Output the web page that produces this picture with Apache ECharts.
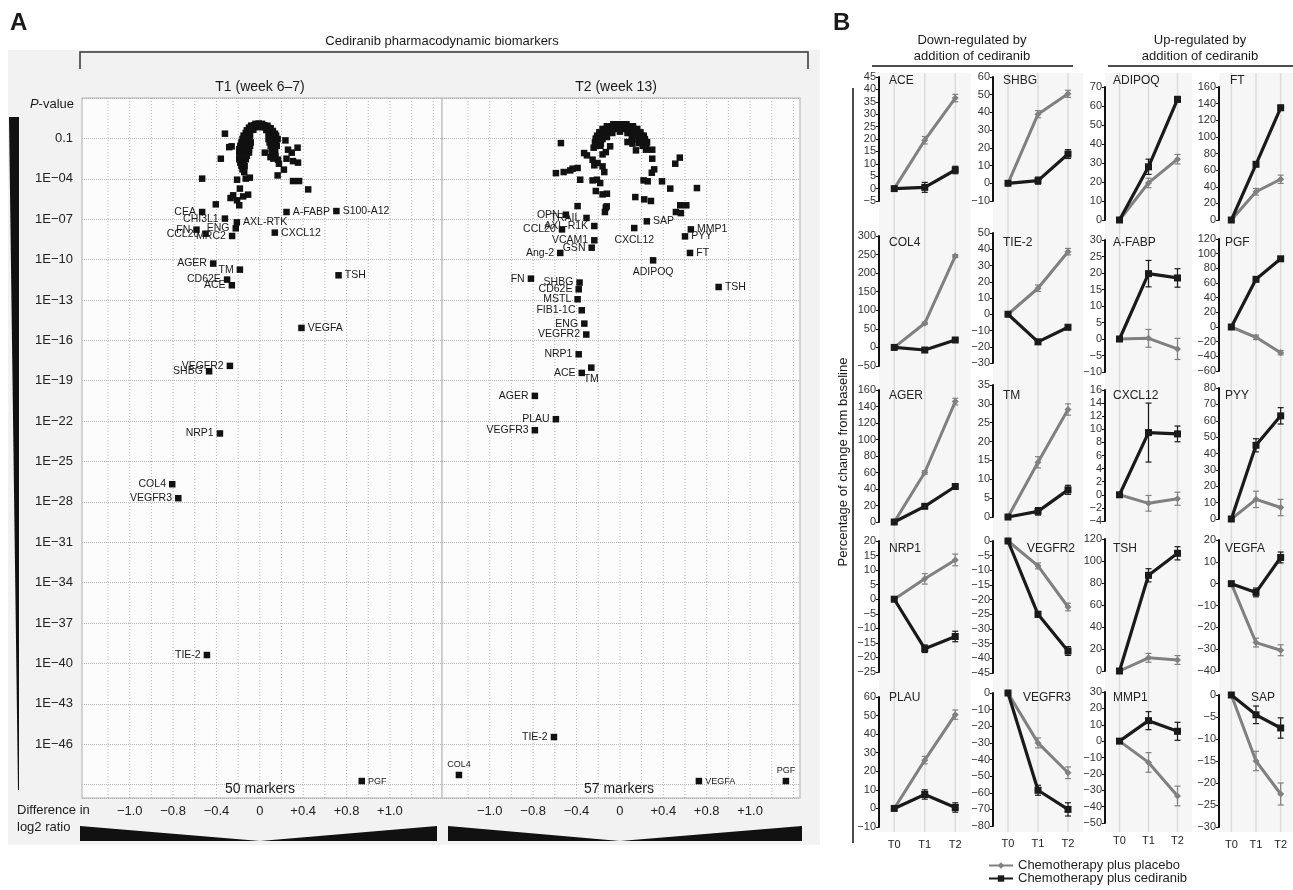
<!DOCTYPE html>
<html><head><meta charset="utf-8">
<script src="https://cdn.jsdelivr.net/npm/echarts@6/dist/echarts.min.js"></script>
<style>html,body{margin:0;padding:0;background:#fff}#c{width:1293px;height:890px}</style>
</head><body><div id="c"></div>
<script>
// ================= Panel A data =================
const pValueTickValues = [1,4,7,10,13,16,19,22,25,28,31,34,37,40,43,46];
const pValueTickLabels = ['0.1','1E\u221204','1E\u221207','1E\u221210','1E\u221213','1E\u221216','1E\u221219','1E\u221222','1E\u221225','1E\u221228','1E\u221231','1E\u221234','1E\u221237','1E\u221240','1E\u221243','1E\u221246'];
const diffTickValues = [-6,-4,-2,0,2,4,6];
const diffTickLabels = ['\u22121.0','\u22120.8','\u22120.4','0','+0.4','+0.8','+1.0'];
const diffGridValues = [-7,-6,-5,-4,-3,-2,-1,0,1,2,3,4,5,6,7,8];

// T1 (week 6-7): labelled markers, x = difference (grid units), y = -log10(P)
const t1Names = ['CEA','CHI3L1','FN','ENG','AXL-RTK','CCL20','MRC2','A-FABP','S100-A12','CXCL12','AGER','TM','CD62E','ACE','TSH','VEGFA','VEGFR2','SHBG','NRP1','COL4','VEGFR3','TIE-2','PGF'];
const t1Diff = [-2.66,-1.61,-2.92,-1.11,-1.06,-2.50,-1.28,1.23,3.53,0.69,-2.15,-0.92,-1.51,-1.29,3.63,1.92,-1.38,-2.34,-1.84,-4.04,-3.76,-2.44,4.70];
const t1NegLogP = [6.47,6.96,7.78,7.68,7.24,8.08,8.25,6.47,6.40,8.00,10.30,10.75,11.49,11.91,11.17,15.08,17.90,18.30,22.92,26.69,27.73,39.38,48.74];
// T1 unlabelled markers [difference, -log10(P)]
const t1Others = [
 [-1.61,0.65],[-1.41,1.65],[-1.30,1.59],[-1.80,2.51],[1.18,1.15],[1.30,1.84],[1.47,2.06],[1.74,1.69],[1.23,2.51],[1.53,2.69],
 [1.76,2.80],[0.23,2.06],[0.49,2.39],[0.84,2.58],[0.88,2.88],[1.11,3.32],[0.82,3.75],[-0.72,3.50],[-0.46,3.92],[-0.65,3.99],
 [-1.05,4.07],[-2.66,3.99],[1.53,4.17],[1.81,4.17],[2.23,4.79],[-0.92,4.73],[-1.23,5.23],[-1.35,5.43],[-0.77,5.31],[-0.54,5.18],
 [-1.05,5.60],[-0.95,5.97],[-2.03,5.90],[-0.92,2.19],[-0.65,2.14],
 [-0.20,-0.08],[-0.05,-0.10],[0.10,-0.08],
 [-0.40,0.05],[-0.25,0.02],[-0.10,0.00],[0.05,0.00],[0.20,0.02],[0.35,0.06],
 [-0.50,0.20],[-0.35,0.18],[-0.20,0.16],[-0.05,0.15],[0.10,0.16],[0.25,0.18],[0.40,0.22],[0.50,0.25],
 [-0.60,0.40],[-0.45,0.38],[-0.30,0.36],[0.30,0.38],[0.45,0.42],[0.60,0.45],
 [-0.65,0.60],[-0.50,0.58],[0.40,0.60],[0.55,0.62],[0.70,0.65],
 [-0.75,0.80],[-0.60,0.80],[-0.45,0.80],
 [-0.80,1.05],[-0.65,1.05],[-0.50,1.05],
 [-0.85,1.30],[-0.70,1.30],[-0.55,1.30],[-0.42,1.30],
 [-0.90,1.55],[-0.75,1.55],[-0.60,1.55],[-0.45,1.55],
 [-0.95,1.80],[-0.80,1.80],[-0.65,1.80],[-0.50,1.80],
 [-0.95,2.05],[-0.80,2.05],[-0.65,2.05],[-0.50,2.05],
 [-0.90,2.30],[-0.75,2.30],[-0.60,2.30],
 [-0.95,2.55],[-0.80,2.55],[-0.65,2.55],
 [-0.90,2.80],[-0.75,2.80],[-0.85,3.05],[-0.70,3.05],[-0.80,3.30],
 [0.45,0.80],[0.60,0.80],[0.75,0.80],
 [0.40,1.05],[0.55,1.05],[0.70,1.05],[0.82,1.05],
 [0.45,1.30],[0.60,1.30],[0.75,1.30],
 [0.50,1.55],[0.65,1.55],[0.78,1.55],
 [0.55,1.80],[0.70,1.80],[0.55,2.05],[0.70,2.05],[0.60,2.30],[0.72,2.30],[0.62,2.50]
];

// T2 (week 13)
const t2Names = ['OPN','TRAIL','CCL20','AXL-R1K','VCAM1','GSN','Ang-2','SAP','CXCL12','MMP1','PYY','FT','ADIPOQ','TSH','FN','SHBG','CD62E','MSTL','FIB1-1C','ENG','VEGFR2','NRP1','TM','ACE','AGER','PLAU','VEGFR3','TIE-2','COL4','VEGFA','PGF'];
const t2Diff = [-2.49,-1.54,-2.67,-1.18,-1.18,-1.30,-2.75,1.24,0.66,3.27,3.00,3.23,1.53,4.55,-4.10,-1.86,-1.90,-1.95,-1.76,-1.64,-1.55,-1.90,-1.32,-1.76,-3.92,-2.95,-3.92,-3.04,-7.42,3.64,7.65];
const t2NegLogP = [6.67,6.91,7.76,7.51,8.57,9.12,9.51,7.16,7.66,7.76,8.28,9.51,10.06,12.04,11.42,11.71,12.21,12.95,13.77,14.76,15.57,17.04,18.03,18.42,20.13,21.86,22.68,45.47,48.29,48.74,48.74];
const t2Others = [
 [-2.72,1.35],[-2.95,3.58],[-2.59,3.50],[-2.29,3.38],[-2.18,3.25],[-1.95,3.20],[-1.83,4.07],[-1.95,6.03],[-1.65,2.09],[-1.52,2.26],
 [-1.26,2.58],[-1.18,3.00],[-1.21,1.69],[-1.03,2.83],[-0.80,3.08],[-0.72,3.50],[-1.26,4.12],[-1.06,4.07],[-0.91,4.32],[-1.11,4.91],
 [-0.80,5.16],[-0.60,5.11],[-0.65,6.14],[-0.69,6.47],[-0.80,2.19],[-0.65,2.02],[-0.45,1.59],[0.71,5.36],[1.12,5.53],[1.43,5.65],
 [1.09,4.12],[1.28,4.19],[1.47,3.55],[1.58,3.30],[1.49,2.51],[1.49,1.84],[1.20,1.84],[0.74,1.89],[1.94,4.19],[2.32,4.73],
 [3.55,4.69],[2.55,2.88],[2.76,2.43],[2.58,6.47],[2.81,6.55],[2.78,5.97],[3.06,5.97],[-0.61,6.05],[0.35,1.27],[0.58,1.39],
 [0.89,1.35],[1.23,1.27],[-0.88,1.39],[-1.11,1.02],
 [-0.30,-0.05],[-0.15,-0.05],[0.00,-0.05],[0.15,-0.05],[0.30,-0.05],
 [-0.60,0.10],[-0.45,0.10],[-0.30,0.10],[-0.15,0.10],[0.00,0.10],[0.15,0.10],[0.30,0.10],[0.45,0.10],[0.60,0.10],
 [-0.80,0.30],[-0.65,0.30],[-0.50,0.30],[-0.35,0.30],[-0.20,0.30],[0.20,0.30],[0.35,0.30],[0.50,0.30],[0.65,0.30],[0.80,0.30],
 [-0.95,0.55],[-0.80,0.55],[-0.65,0.55],[-0.50,0.55],[0.50,0.55],[0.65,0.55],[0.80,0.55],[0.95,0.55],
 [-1.05,0.80],[-0.90,0.80],[-0.75,0.80],[0.70,0.80],[0.85,0.80],[1.00,0.80],[1.10,0.80],
 [-1.10,1.05],[-0.95,1.05],[-0.80,1.05],[0.85,1.05],[1.00,1.05],[1.15,1.05],
 [-1.15,1.30],[-1.00,1.30],[0.95,1.30],[1.10,1.30],[1.25,1.30],
 [-1.10,1.55],[-0.90,1.55],[1.05,1.55],[1.20,1.55],
 [-0.35,0.60],[0.00,0.50],[0.35,0.60],[-0.60,0.90],[0.55,0.95]
];

// ================= Panel B data =================
const timeCats = ['T0','T1','T2'];
const markerNames = ['ACE','SHBG','ADIPOQ','FT','COL4','TIE-2','A-FABP','PGF','AGER','TM','CXCL12','PYY','NRP1','VEGFR2','TSH','VEGFA','PLAU','VEGFR3','MMP1','SAP'];
const axisMin  = [-5,-10,0,0,-50,-30,-10,-60,0,0,-4,0,-25,-45,0,-40,-10,-80,-50,-30];
const axisMax  = [45,60,70,160,300,50,30,120,160,35,16,80,20,0,120,20,60,0,30,0];
const axisStep = [5,10,10,20,50,10,5,20,20,5,2,10,5,5,20,10,10,10,10,5];
const placeboMean = [[0,19.5,36.5],[0,39,50.5],[0,19.5,32],[0,34,49],[0,65,246],[0,16,38.5],[0,0.2,-3],[0,-14,-35],[0,60,146],[0,14.5,28.5],[0,-1.3,-0.6],[0,12,7],[0,7,13.5],[0,-8.5,-22.5],[0,12,10],[0,-27,-30.5],[0,26,50.5],[0,-30,-48],[0,-13,-33.5],[0,-15,-22.5]];
const placeboErr  = [[0,1.5,1.5],[0,2,2],[0,2.5,2.5],[0,4,5],[0,3,4],[0,2,2],[0,2.7,3.2],[0,3,3],[0,2,4],[0,1.5,1.5],[0,1.2,1],[0,5,5],[0,1.8,2],[0,1,1.3],[0,4,4],[0,2,2.5],[0,2,2.5],[0,3,3.5],[0,6,6],[0,2.2,2.5]];
const cedMean = [[0,0.5,7.5],[0,1.5,16.5],[0,28,63.5],[0,67,135],[0,-7,20],[0,-17,-8],[0,19.8,18.5],[0,65,93],[0,19,43],[0,1.5,7.2],[0,9.5,9.3],[0,45,63],[0,-17,-12.8],[0,-25,-37.5],[0,87,107],[0,-4,12],[0,7.5,0.5],[0,-58.5,-70],[0,12.5,6],[0,-4.5,-7.5]];
const cedErr  = [[0,2,1.5],[0,2,2.5],[0,4,1.5],[0,2,3],[0,3,3],[0,1.5,1.5],[0,4,2.8],[0,2,3],[0,2,2],[0,1,1.2],[0,4.5,1.2],[0,4,5],[0,1.3,1.8],[0,1,1.5],[0,6,6],[0,2,2.5],[0,2.5,2.5],[0,3,4],[0,5.5,5.5],[0,2,2.3]];
const seriesNames = ['Chemotherapy plus placebo','Chemotherapy plus cediranib'];

// ================= layout & style =================
const FONT = 'Liberation Sans, Arial, Helvetica, sans-serif';
const t1LabelStyle = {'CEA':['left',0,0],'CHI3L1':['left',0,2],'FN':['left',0,0],'ENG':['left',0,0],'AXL-RTK':['right',0,2],
 'CCL20':['left',3,7],'MRC2':['left',6,7],'A-FABP':['right',0,2],'S100-A12':['right',0,0],'CXCL12':['right',0,4],'AGER':['left',0,0],
 'TM':['left',0,-1],'CD62E':['left',0,0],'ACE':['left',9,8],'TSH':['right',-3,0],'VEGFA':['right',-2,3],'VEGFR2':['left',0,-6],
 'SHBG':['left',0,3],'NRP1':['left',0,0],'COL4':['left',0,0],'VEGFR3':['left',0,3],'TIE-2':['left',0,0],'PGF':['right',0,0]};
const t2LabelStyle = {'OPN':['left',0,0],'TRAIL':['left',0,4],'CCL20':['left',0,1],'AXL-R1K':['left',6,8],'VCAM1':['left',0,3],
 'GSN':['left',2,9],'Ang-2':['left',-5,1],'SAP':['right',-5,5],'CXCL12':['bottom',12,-3],'MMP1':['right',0,0],'PYY':['right',0,4],
 'FT':['right',0,1],'ADIPOQ':['bottom',-2,-1],'TSH':['right',0,3],'FN':['left',-3,-2],'SHBG':['left',0,0],'CD62E':['left',0,0],
 'MSTL':['left',0,0],'FIB1-1C':['left',0,0],'ENG':['left',0,1],'VEGFR2':['left',0,1],'NRP1':['left',0,0],'TM':['bottom',1,-5],
 'ACE':['left',-3,2],'AGER':['left',0,0],'PLAU':['left',0,0],'VEGFR3':['left',0,0],'TIE-2':['left',0,0],'COL4':['top',0,0],
 'VEGFA':['right',-3,2],'PGF':['top',0,0]};
const colLeft = [879, 993, 1105, 1219];
const colWidth = [91.5, 90, 87, 87];
const chartTopPx    = [77,77,87,87, 236,233,240,239, 390,385,390,388, 541,541,539,540, 697,693,692,695];
const chartBottomPx = [201,201,220,220, 366,363,372,371, 522,517,521,519, 672,673,671,671, 827,826,823,827];
const chartLabelPos = [[889,81],[1003,81],[1113,81],[1230,81],[889,243],[1003,243],[1113,243],[1225,243],
 [889,396],[1003,396],[1113,396],[1225,396],[889,549],[1027,549],[1113,549],[1225,549],[889,698],[1023,698],[1113,698],[1251,698]];
const placeboColor = '#808080', cedColor = '#1a1a1a';

const grids = [], xAxes = [], yAxes = [], series = [];

function labelled(names, xs, ys, styleMap) {
  return names.map((n, i) => {
    const s = styleMap[n] || ['left', 0, 0];
    return {name: n, value: [xs[i], ys[i]],
      label: {position: s[0], offset: [s[1], s[2]], fontSize: ys[i] > 47 ? 9 : 10.5}};
  });
}
function pFormatter(v) {
  for (let i = 0; i < pValueTickValues.length; i++) if (Math.abs(v - pValueTickValues[i]) < 1e-6) return pValueTickLabels[i];
  return '';
}
function dFormatter(v) {
  for (let i = 0; i < diffTickValues.length; i++) if (Math.abs(v - diffTickValues[i]) < 1e-6) return diffTickLabels[i];
  return '';
}
function minusFormatter(v) { return String(v).replace('-', '\u2212'); }
function vDottedRender(params, api) {
  const x = api.coord([api.value(0), 0])[0];
  const cs = params.coordSys;
  return {type: 'line', shape: {x1: x, y1: cs.y, x2: x, y2: cs.y + cs.height},
    style: {stroke: '#b5b5b5', lineWidth: 1, lineDash: [1, 2]}};
}

// ----- Panel A grids -----
const panelA = [
  {left: 82, width: 360, min: -8.2, max: 8.4, names: t1Names, xs: t1Diff, ys: t1NegLogP, others: t1Others, style: t1LabelStyle, showY: true},
  {left: 442, width: 358, min: -8.2, max: 8.3, names: t2Names, xs: t2Diff, ys: t2NegLogP, others: t2Others, style: t2LabelStyle, showY: false}
];
panelA.forEach((p, k) => {
  const g = grids.length;
  grids.push({left: p.left, width: p.width, top: 98, height: 700, show: true, backgroundColor: '#fcfcfc', borderColor: '#c6c6c6', borderWidth: 1.5});
  xAxes.push({type: 'value', gridIndex: g, min: p.min, max: p.max, interval: 0.2,
    axisLine: {show: false, onZero: false}, axisTick: {show: false}, splitLine: {show: false},
    axisLabel: {formatter: dFormatter, fontSize: 13, color: '#222', margin: 7, fontFamily: FONT}});
  yAxes.push({type: 'value', gridIndex: g, inverse: true, min: -2, max: 50, interval: 3,
    axisLine: {show: false, onZero: false}, axisTick: {show: false},
    splitLine: {show: true, lineStyle: {type: 'dotted', color: '#b5b5b5', width: 1}},
    axisLabel: {show: p.showY, formatter: pFormatter, fontSize: 13, color: '#222', margin: 9, fontFamily: FONT}});
  series.push({type: 'custom', xAxisIndex: g, yAxisIndex: g, renderItem: vDottedRender, silent: true, z: 1,
    data: diffGridValues.map(v => [v, 0])});
  series.push({type: 'scatter', xAxisIndex: g, yAxisIndex: g, symbol: 'rect', symbolSize: 6.5,
    itemStyle: {color: '#111', opacity: 1}, data: p.others, silent: true, z: 3});
  series.push({type: 'scatter', xAxisIndex: g, yAxisIndex: g, symbol: 'rect', symbolSize: 6.5,
    itemStyle: {color: '#111', opacity: 1}, data: labelled(p.names, p.xs, p.ys, p.style), silent: true, z: 4,
    label: {show: true, formatter: '{b}', color: '#1a1a1a', distance: 3, fontFamily: FONT},
    labelLayout: {hideOverlap: false}});
});

// ----- Panel B column backgrounds -----
function vLineRender(params, api) {
  const x = api.coord([api.value(0), 0])[0];
  const cs = params.coordSys;
  return {type: 'line', shape: {x1: x, y1: cs.y, x2: x, y2: cs.y + cs.height}, style: {stroke: '#dcdcdc', lineWidth: 1.5}};
}
for (let c = 0; c < 4; c++) {
  const g = grids.length;
  grids.push({left: colLeft[c], width: colWidth[c], top: 73, height: 759, show: true, backgroundColor: '#f6f6f6', borderWidth: 0});
  xAxes.push({type: 'category', gridIndex: g, data: timeCats, show: false, boundaryGap: true});
  yAxes.push({type: 'value', gridIndex: g, min: 0, max: 1, show: false});
  series.push({type: 'custom', xAxisIndex: g, yAxisIndex: g, renderItem: vLineRender, silent: true, z: 1,
    data: timeCats.map((t, i) => [i, 0])});
}

// ----- Panel B small multiples -----
function errRender(params, api) {
  const x = api.value(0), lo = api.value(1), hi = api.value(2);
  const p1 = api.coord([x, hi]), p2 = api.coord([x, lo]);
  const hw = 3, st = {stroke: api.visual('color'), lineWidth: 1.2};
  return {type: 'group', children: [
    {type: 'line', shape: {x1: p1[0], y1: p1[1], x2: p2[0], y2: p2[1]}, style: st},
    {type: 'line', shape: {x1: p1[0] - hw, y1: p1[1], x2: p1[0] + hw, y2: p1[1]}, style: st},
    {type: 'line', shape: {x1: p2[0] - hw, y1: p2[1], x2: p2[0] + hw, y2: p2[1]}, style: st}]};
}
function errData(mean, err) {
  const out = [];
  for (let i = 1; i < mean.length; i++) out.push([i, mean[i] - err[i], mean[i] + err[i]]);
  return out;
}
const chartLabels = [];
markerNames.forEach((name, i) => {
  const c = i % 4, row = Math.floor(i / 4);
  const g = grids.length;
  grids.push({left: colLeft[c], width: colWidth[c], top: chartTopPx[i], height: chartBottomPx[i] - chartTopPx[i], show: false});
  xAxes.push({type: 'category', gridIndex: g, data: timeCats, boundaryGap: true,
    axisLine: {show: false, onZero: false}, axisTick: {show: false}, splitLine: {show: false},
    axisLabel: {show: row === 4, fontSize: 11, color: '#222', margin: 12, fontFamily: FONT}});
  yAxes.push({type: 'value', gridIndex: g, min: axisMin[i], max: axisMax[i], interval: axisStep[i],
    axisLine: {show: true, onZero: false, lineStyle: {color: '#111', width: 2}},
    axisTick: {show: true, length: 3, lineStyle: {color: '#111', width: 1}},
    splitLine: {show: false},
    axisLabel: {fontSize: 11, color: '#333', margin: 3, fontFamily: FONT, formatter: minusFormatter}});
  series.push({type: 'custom', xAxisIndex: g, yAxisIndex: g, renderItem: errRender, silent: true, z: 3,
    itemStyle: {color: placeboColor}, encode: {x: 0, y: [1, 2]}, data: errData(placeboMean[i], placeboErr[i])});
  series.push({type: 'line', name: seriesNames[0], xAxisIndex: g, yAxisIndex: g, data: placeboMean[i],
    symbol: 'diamond', symbolSize: 7, showAllSymbol: true, color: placeboColor,
    lineStyle: {width: 3, color: placeboColor}, itemStyle: {color: placeboColor}, z: 4, silent: true});
  series.push({type: 'custom', xAxisIndex: g, yAxisIndex: g, renderItem: errRender, silent: true, z: 5,
    itemStyle: {color: cedColor}, encode: {x: 0, y: [1, 2]}, data: errData(cedMean[i], cedErr[i])});
  series.push({type: 'line', name: seriesNames[1], xAxisIndex: g, yAxisIndex: g, data: cedMean[i],
    symbol: 'rect', symbolSize: 7, showAllSymbol: true, color: cedColor,
    lineStyle: {width: 3.2, color: cedColor}, itemStyle: {color: cedColor}, z: 6, silent: true});
  chartLabels.push({type: 'text', x: chartLabelPos[i][0], y: chartLabelPos[i][1], z: 20,
    style: {text: name, font: '12px ' + FONT, fill: '#222', align: 'left', verticalAlign: 'middle', textAlign: 'left', textVerticalAlign: 'middle'}});
});

function txt(x, y, text, font, align, extra) {
  return Object.assign({type: 'text', x: x, y: y, z: 20,
    style: {text: text, font: font, fill: '#1a1a1a', align: align || 'left', verticalAlign: 'middle', textAlign: align || 'left', textVerticalAlign: 'middle'}}, extra || {});
}
const graphics = [
  {type: 'rect', z: -10, shape: {x: 8, y: 50, width: 812, height: 795}, style: {fill: '#f2f2f2'}},
  txt(10, 23, 'A', 'bold 24px ' + FONT),
  txt(833, 23, 'B', 'bold 24px ' + FONT),
  txt(442, 41, 'Cediranib pharmacodynamic biomarkers', '13px ' + FONT, 'center'),
  {type: 'polyline', z: 20, shape: {points: [[80, 69], [80, 52], [808, 52], [808, 69]]}, style: {stroke: '#333', lineWidth: 1.5, fill: null}},
  txt(260, 87, 'T1 (week 6\u20137)', '14px ' + FONT, 'center'),
  txt(616, 87, 'T2 (week 13)', '14px ' + FONT, 'center'),
  {type: 'text', x: 74, y: 104, z: 20, style: {text: '{i|P}-value', font: '13px ' + FONT, fill: '#1a1a1a', align: 'right', verticalAlign: 'middle', textAlign: 'right', textVerticalAlign: 'middle',
    rich: {i: {fontStyle: 'italic', font: 'italic 13px ' + FONT, fill: '#1a1a1a'}}}},
  {type: 'polygon', z: 20, shape: {points: [[9, 117], [19, 117], [19, 790], [18, 790]]}, style: {fill: '#111'}},
  txt(17, 810, 'Difference in', '13px ' + FONT),
  txt(17, 827, 'log2 ratio', '13px ' + FONT),
  {type: 'polygon', z: 20, shape: {points: [[80, 826], [260, 841], [437, 826], [437, 841], [80, 841]]}, style: {fill: '#111'}},
  {type: 'polygon', z: 20, shape: {points: [[448, 826], [620, 841], [802, 826], [802, 841], [448, 841]]}, style: {fill: '#111'}},
  txt(260, 789, '50 markers', '14px ' + FONT, 'center'),
  txt(619, 789, '57 markers', '14px ' + FONT, 'center'),
  txt(972, 40, 'Down-regulated by', '13px ' + FONT, 'center'),
  txt(972, 56, 'addition of cediranib', '13px ' + FONT, 'center'),
  {type: 'line', z: 20, shape: {x1: 872, y1: 66, x2: 1073, y2: 66}, style: {stroke: '#111', lineWidth: 1.5}},
  txt(1200, 40, 'Up-regulated by', '13px ' + FONT, 'center'),
  txt(1200, 56, 'addition of cediranib', '13px ' + FONT, 'center'),
  {type: 'line', z: 20, shape: {x1: 1108, y1: 66, x2: 1293, y2: 66}, style: {stroke: '#111', lineWidth: 1.5}},
  {type: 'line', z: 20, shape: {x1: 853, y1: 88, x2: 853, y2: 843}, style: {stroke: '#111', lineWidth: 1.5}},
  txt(843, 462, 'Percentage of change from baseline', '13px ' + FONT, 'center', {rotation: Math.PI / 2})
].concat(chartLabels);

const chart = echarts.init(document.getElementById('c'), null, {renderer: 'canvas'});
chart.setOption({
  animation: false,
  backgroundColor: '#ffffff',
  textStyle: {fontFamily: FONT},
  grid: grids, xAxis: xAxes, yAxis: yAxes, series: series,
  legend: {data: seriesNames, orient: 'vertical', left: 988, top: 859, itemWidth: 24, itemHeight: 8, itemGap: 0,
    padding: 0, selectedMode: false, textStyle: {fontSize: 13, color: '#222', fontFamily: FONT}},
  graphic: {elements: graphics}
});
</script></body></html>
